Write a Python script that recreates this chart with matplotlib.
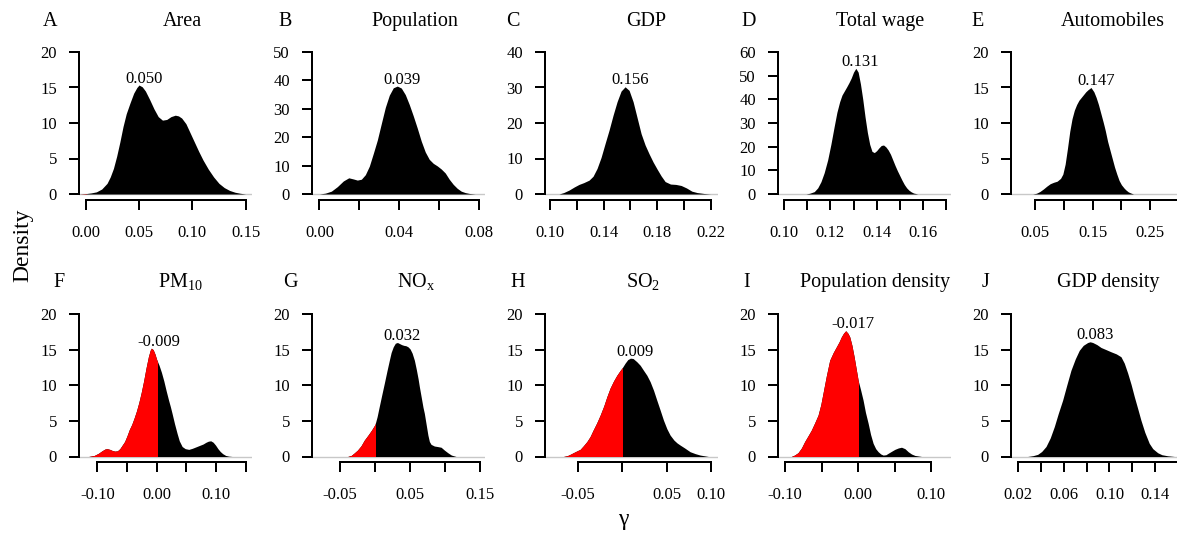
import numpy as np
import matplotlib
matplotlib.use('Agg')
import matplotlib.pyplot as plt
from matplotlib.patches import Rectangle

plt.rcParams['font.family'] = ['Liberation Serif', 'DejaVu Serif']
plt.rcParams['mathtext.fontset'] = 'custom'
plt.rcParams['mathtext.rm'] = 'Liberation Serif'
plt.rcParams['mathtext.it'] = 'Liberation Serif:italic'
plt.rcParams['axes.unicode_minus'] = False

# ---------------- data ----------------
titles = ['Area', 'Population', 'GDP', 'Total wage', 'Automobiles',
          r'PM$_{\mathrm{10}}$', r'NO$_{\mathrm{x}}$', r'SO$_{\mathrm{2}}$',
          'Population density', 'GDP density']
letters = list('ABCDEFGHIJ')
peaks = [0.050, 0.039, 0.156, 0.131, 0.147, -0.009, 0.032, 0.009, -0.017, 0.083]

A_x = [-0.006, 0.000, 0.005, 0.010, 0.015, 0.020, 0.023, 0.026, 0.029, 0.032, 0.035, 0.038, 0.0415,
       0.045, 0.048, 0.050, 0.053, 0.056, 0.060, 0.064, 0.068, 0.072, 0.076, 0.080, 0.084, 0.087,
       0.090, 0.094, 0.098, 0.102, 0.106, 0.110, 0.115, 0.120, 0.125, 0.130, 0.135, 0.140, 0.145, 0.150]
A_y = [0.0, 0.05, 0.15, 0.3, 0.7, 1.5, 2.4, 3.6, 5.3, 7.3, 9.5, 11.3, 12.8,
       14.2, 15.0, 15.35, 15.1, 14.5, 13.3, 12.0, 10.9, 10.4, 10.5, 10.9, 11.1, 11.0,
       10.7, 9.9, 8.6, 7.3, 6.0, 4.8, 3.5, 2.4, 1.5, 0.9, 0.5, 0.25, 0.1, 0.0]
B_x = [0.000, 0.003, 0.006, 0.009, 0.012, 0.0147, 0.017, 0.019, 0.021, 0.023, 0.025, 0.027, 0.029,
       0.031, 0.033, 0.035, 0.037, 0.039, 0.041, 0.043, 0.045, 0.047, 0.049, 0.051, 0.053, 0.055,
       0.057, 0.059, 0.061, 0.063, 0.065, 0.067, 0.069, 0.071, 0.073, 0.075, 0.078]
B_y = [0.0, 0.3, 1.0, 2.6, 4.6, 5.7, 5.3, 4.9, 5.2, 6.8, 9.8, 14.3, 19.0,
       24.8, 30.5, 34.8, 37.4, 38.0, 37.3, 35.0, 31.5, 27.5, 23.2, 18.6, 14.8, 12.2,
       10.8, 9.9, 8.8, 7.4, 5.2, 3.4, 2.0, 1.0, 0.5, 0.2, 0.0]
C_x = [0.1065, 0.110, 0.114, 0.118, 0.1215, 0.125, 0.129, 0.132, 0.135, 0.138, 0.141, 0.144, 0.147,
       0.150, 0.153, 0.156, 0.159, 0.162, 0.165, 0.168, 0.171, 0.174, 0.177, 0.180, 0.183, 0.186,
       0.190, 0.194, 0.198, 0.202, 0.206, 0.210, 0.215, 0.220]
C_y = [0.0, 0.4, 1.1, 2.0, 2.7, 3.2, 3.9, 5.0, 7.2, 10.3, 14.2, 18.0, 22.2,
       26.0, 29.0, 30.2, 29.2, 26.0, 21.5, 17.0, 13.8, 11.3, 9.0, 7.0, 5.1, 3.5,
       2.8, 2.7, 2.4, 1.7, 0.8, 0.4, 0.15, 0.0]
D_x = [0.1094, 0.111, 0.113, 0.1145, 0.1159, 0.1173, 0.1188, 0.1202, 0.1216, 0.1228, 0.124, 0.125,
       0.126, 0.127, 0.128, 0.129, 0.130, 0.131, 0.132, 0.133, 0.134, 0.135, 0.136, 0.137, 0.138,
       0.139, 0.140, 0.141, 0.142, 0.143, 0.144, 0.145, 0.146, 0.147, 0.148, 0.149, 0.150, 0.151,
       0.152, 0.153, 0.154, 0.155, 0.156, 0.1578]
D_y = [0.0, 0.3, 1.0, 2.6, 5.2, 9.0, 14.4, 21.0, 28.4, 34.5, 39.0, 41.8,
       43.5, 45.2, 47.0, 49.0, 51.5, 53.1, 51.5, 46.5, 40.0, 32.5, 26.0, 21.0, 18.0,
       17.5, 18.3, 19.5, 20.5, 20.7, 19.9, 18.6, 16.8, 14.4, 12.0, 9.8, 7.8, 5.8,
       4.0, 2.6, 1.6, 0.9, 0.4, 0.0]
E_x = [0.0455, 0.052, 0.058, 0.064, 0.070, 0.076, 0.082, 0.088, 0.094, 0.098, 0.102, 0.106, 0.110,
       0.114, 0.118, 0.122, 0.126, 0.130, 0.134, 0.138, 0.142, 0.147, 0.152, 0.156, 0.160, 0.164,
       0.168, 0.1702, 0.172, 0.176, 0.180, 0.184, 0.188, 0.192, 0.196, 0.200, 0.205, 0.208, 0.212,
       0.216, 0.221]
E_y = [0.0, 0.1, 0.35, 0.7, 1.1, 1.45, 1.65, 1.8, 2.2, 2.8, 4.2, 6.4, 8.8,
       10.6, 11.8, 12.6, 13.2, 13.6, 14.0, 14.4, 14.7, 15.0, 14.4, 13.6, 12.6, 11.4,
       10.2, 9.5, 8.9, 7.4, 6.2, 5.0, 3.8, 2.8, 1.9, 1.3, 0.8, 0.56, 0.3,
       0.15, 0.0]
F_x = [-0.1145, -0.105, -0.098, -0.092, -0.087, -0.0835, -0.079, -0.075, -0.0705, -0.066, -0.062,
       -0.058, -0.054, -0.050, -0.046, -0.042, -0.038, -0.034, -0.030, -0.026, -0.022, -0.018,
       -0.014, -0.011, -0.009, -0.006, -0.003, 0.000, 0.004, 0.008, 0.012, 0.016, 0.020, 0.023,
       0.026, 0.030, 0.0343, 0.038, 0.0428, 0.048, 0.054, 0.060, 0.066, 0.072, 0.078, 0.083,
       0.087, 0.091, 0.095, 0.099, 0.103, 0.107, 0.111, 0.116, 0.121, 0.127]
F_y = [0.0, 0.15, 0.45, 0.8, 1.05, 1.1, 1.0, 0.85, 0.75, 0.8, 1.1,
       1.6, 2.1, 2.9, 3.8, 4.5, 5.4, 6.4, 7.6, 9.0, 10.6, 12.4,
       14.0, 14.9, 15.2, 15.0, 14.4, 13.6, 12.8, 11.8, 10.6, 9.2, 7.9, 7.0,
       6.0, 4.6, 3.25, 2.2, 1.4, 1.1, 1.0, 1.15, 1.35, 1.55, 1.75, 2.0,
       2.15, 2.2, 2.0, 1.6, 1.1, 0.7, 0.4, 0.15, 0.05, 0.0]
G_x = [-0.039, -0.034, -0.0296, -0.025, -0.020, -0.0153, -0.010, -0.005, 0.000, 0.003, 0.006, 0.0095,
       0.0133, 0.017, 0.0204, 0.023, 0.026, 0.029, 0.032, 0.035, 0.038, 0.041, 0.044, 0.047, 0.050,
       0.053, 0.0562, 0.059, 0.0615, 0.0633, 0.066, 0.0685, 0.0704, 0.073, 0.0755, 0.0776, 0.080,
       0.0847, 0.089, 0.0943, 0.099, 0.1039, 0.109, 0.1157]
G_y = [0.0, 0.15, 0.5, 0.9, 1.5, 2.3, 3.0, 3.7, 4.5, 5.6, 7.0, 8.6,
       10.3, 12.0, 13.5, 14.6, 15.4, 15.9, 16.0, 15.85, 15.7, 15.6, 15.55, 15.4, 15.1,
       14.5, 13.5, 12.2, 10.9, 9.8, 8.3, 6.9, 6.06, 4.5, 3.0, 2.1, 1.7,
       1.47, 1.4, 1.3, 0.9, 0.53, 0.2, 0.0]
H_x = [-0.0664, -0.062, -0.0589, -0.055, -0.051, -0.0476, -0.044, -0.040, -0.0364, -0.033, -0.029,
       -0.0251, -0.021, -0.0175, -0.0139, -0.010, -0.0063, -0.003, 0.000, 0.003, 0.006, 0.009,
       0.012, 0.0162, 0.020, 0.0237, 0.0275, 0.0312, 0.035, 0.0387, 0.0425, 0.0462, 0.050, 0.0537,
       0.058, 0.0615, 0.065, 0.070, 0.0762, 0.082, 0.0875, 0.0968]
H_y = [0.0, 0.12, 0.3, 0.55, 0.8, 1.0, 1.5, 2.1, 2.8, 3.7, 4.7,
       5.8, 7.1, 8.4, 9.6, 10.6, 11.4, 12.0, 12.5, 13.1, 13.6, 13.8,
       13.75, 13.3, 12.8, 12.1, 11.4, 10.5, 9.3, 7.9, 6.5, 5.1, 3.9, 3.0,
       2.3, 1.9, 1.6, 1.2, 0.67, 0.4, 0.2, 0.0]
I_x = [-0.0914, -0.087, -0.0822, -0.0775, -0.0731, -0.0685, -0.064, -0.0595, -0.0548, -0.051, -0.048,
       -0.0435, -0.0389, -0.034, -0.0297, -0.026, -0.0229, -0.020, -0.017, -0.014, -0.0115, -0.0085,
       -0.0055, -0.003, 0.000, 0.0035, 0.0068, 0.010, 0.0137, 0.017, 0.0205, 0.024, 0.0274, 0.031,
       0.0342, 0.038, 0.0411, 0.046, 0.0502, 0.055, 0.0593, 0.064, 0.0685, 0.073, 0.0776, 0.0867]
I_y = [0.0, 0.2, 0.53, 1.2, 2.1, 2.9, 3.7, 4.7, 5.8, 7.3, 8.9,
       11.3, 13.5, 14.6, 15.4, 16.1, 16.8, 17.3, 17.65, 17.3, 16.8, 15.6,
       14.0, 12.5, 10.7, 9.3, 7.9, 6.2, 4.66, 3.1, 1.85, 1.1, 0.67, 0.35,
       0.2, 0.25, 0.45, 0.75, 1.0, 1.2, 1.3, 1.1, 0.67, 0.35, 0.15, 0.0]
J_x = [0.0282, 0.033, 0.037, 0.0405, 0.0443, 0.048, 0.0516, 0.055, 0.0589, 0.0625, 0.0662, 0.070,
       0.0735, 0.077, 0.0809, 0.083, 0.0853, 0.089, 0.0926, 0.097, 0.1013, 0.106, 0.1101, 0.113,
       0.116, 0.119, 0.1218, 0.125, 0.1276, 0.131, 0.1349, 0.138, 0.1423, 0.146, 0.151, 0.157]
J_y = [0.0, 0.12, 0.3, 0.7, 1.4, 2.6, 4.2, 6.0, 7.9, 10.0, 12.1, 13.7,
       14.9, 15.6, 16.0, 16.1, 16.0, 15.7, 15.3, 15.0, 14.7, 14.4, 14.0, 13.1,
       11.7, 10.1, 8.4, 6.6, 5.1, 3.4, 1.85, 1.1, 0.53, 0.25, 0.1, 0.0]

curves_x = [A_x, B_x, C_x, D_x, E_x, F_x, G_x, H_x, I_x, J_x]
curves_y = [A_y, B_y, C_y, D_y, E_y, F_y, G_y, H_y, I_y, J_y]

x_ticks = [
    [0.00, 0.05, 0.10, 0.15],
    [0.00, 0.02, 0.04, 0.06, 0.08],
    [0.10, 0.12, 0.14, 0.16, 0.18, 0.20, 0.22],
    [0.10, 0.11, 0.12, 0.13, 0.14, 0.15, 0.16, 0.17],
    [0.05, 0.10, 0.15, 0.20, 0.25, 0.30],
    [-0.10, -0.05, 0.00, 0.05, 0.10, 0.15],
    [-0.05, 0.00, 0.05, 0.10, 0.15],
    [-0.05, 0.00, 0.05, 0.10],
    [-0.10, -0.05, 0.00, 0.05, 0.10],
    [0.02, 0.04, 0.06, 0.08, 0.10, 0.12, 0.14, 0.16],
]
x_labels = [
    ['0.00', '0.05', '0.10', '0.15'],
    ['0.00', '', '0.04', '', '0.08'],
    ['0.10', '', '0.14', '', '0.18', '', '0.22'],
    ['0.10', '', '0.12', '', '0.14', '', '0.16', ''],
    ['0.05', '', '0.15', '', '0.25', ''],
    ['-0.10', '', '0.00', '', '0.10', ''],
    ['-0.05', '', '0.05', '', '0.15'],
    ['-0.05', '', '0.05', '0.10'],
    ['-0.10', '', '0.00', '', '0.10'],
    ['0.02', '', '0.06', '', '0.10', '', '0.14', ''],
]
y_tops = [20, 50, 40, 60, 20, 20, 20, 20, 20, 20]
y_steps = [5, 10, 10, 10, 5, 5, 5, 5, 5, 5]

# ---------------- layout ----------------
x_limits = [(-0.0063, 0.156), (-0.0037, 0.0829), (0.096, 0.2256), (0.0973, 0.1722), (0.0077, 0.309),
            (-0.1308, 0.1604), (-0.090, 0.157), (-0.0872, 0.1076), (-0.1096, 0.127), (0.0136, 0.1654)]
W, H = 1177, 536
row_zero = [194.0, 456.5]
row_top = [52.0, 314.0]
title_base = [26, 287]
letter_cx = [[50, 285, 513, 749, 978], [59, 290, 518, 747, 985]]
title_cx = [[182, 415, 646, 880, 1113], [180, 416, 643, 875, 1108]]
panel_w = 173

fig = plt.figure(figsize=(W / 100, H / 100), dpi=100)
lw_axis = 1.44

for k in range(10):
    row, col = divmod(k, 5)
    T = y_tops[k]
    ppu = (row_zero[row] - row_top[row]) / T
    b_px = row_zero[row] + 0.04 * T * ppu
    t_px = row_top[row] - 0.04 * T * ppu
    l_px = 79 + 233 * col
    ax = fig.add_axes([l_px / W, 1 - b_px / H, panel_w / W, (b_px - t_px) / H])
    ax.patch.set_alpha(0)
    xlo, xhi = x_limits[k]
    ax.set_xlim(xlo, xhi)
    ax.set_ylim(-0.04 * T, 1.04 * T)

    x = np.array(curves_x[k])
    y = np.array(curves_y[k])
    ax.axhline(0, color='#c8c8c8', lw=1.0, zorder=1)
    ax.fill_between(x, 0, y, color='black', lw=0, zorder=2)
    if xlo < 0:
        red = ax.fill_between(x, 0, y, color='red', lw=0, zorder=3)
        clip = Rectangle((xlo - 1, -10), 1 - xlo, 1000, transform=ax.transData)
        red.set_clip_path(clip)

    ymax = y.max()
    ax.annotate(f"{peaks[k]:.3f}", xy=(peaks[k], ymax), xytext=(-10.1, 1.8),
                textcoords='offset points', ha='left', va='baseline', fontsize=12, zorder=5)

    for s in ['top', 'right']:
        ax.spines[s].set_visible(False)
    ax.spines['left'].set_bounds(0, T)
    ax.spines['bottom'].set_bounds(x_ticks[k][0], x_ticks[k][-1])
    for s in ['left', 'bottom']:
        ax.spines[s].set_linewidth(lw_axis)
    ax.set_xticks(x_ticks[k])
    ax.set_xticklabels(x_labels[k])
    ax.set_yticks(list(range(0, T + 1, y_steps[k])))
    ax.tick_params(axis='both', direction='out', length=7.2, width=lw_axis, labelsize=12)
    ax.tick_params(axis='x', pad=11)
    ax.tick_params(axis='y', pad=8.6)

    fig.text(letter_cx[row][col] / W, 1 - title_base[row] / H, letters[k],
             ha='center', va='baseline', fontsize=14.5)
    fig.text(title_cx[row][col] / W, 1 - title_base[row] / H, titles[k],
             ha='center', va='baseline', fontsize=14.5)

fig.text(23 / W, 1 - 245 / H, 'Density', rotation=90, ha='center', va='center', fontsize=17)
fig.text(623 / W, 1 - 519 / H, 'γ', ha='center', va='center', fontsize=17)

fig.savefig('out.png', dpi=100)
